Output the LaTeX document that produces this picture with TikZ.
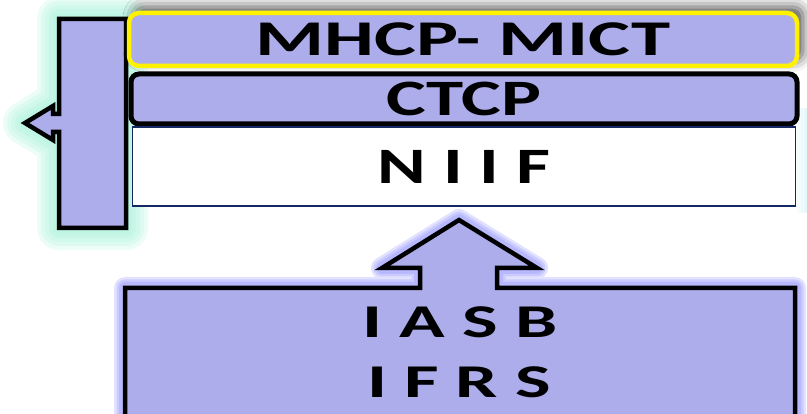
\documentclass[tikz,border=0pt]{standalone}
\usepackage{fontspec}
\usepackage{graphicx}
\setmainfont{Carlito}
\usetikzlibrary{shadows.blur,calc}
\definecolor{lavfill}{RGB}{173,173,235}
\definecolor{niifline}{RGB}{20,40,100}
\definecolor{minty}{RGB}{160,240,215}
\definecolor{glowblue}{RGB}{110,110,255}
\definecolor{paleteal}{RGB}{200,240,245}
\newcommand{\wide}[2]{\scalebox{#1}[1]{#2}}
\newcommand{\pillarpath}{(59,185) -- (59,281) -- (53,281) -- (53,273) -- (25,290) -- (53,307) -- (53,299)
    -- (59,299) -- (59,394) -- (126,394) -- (126,185) -- cycle}
\newcommand{\basepath}{(125,-20) -- (125,125) -- (420,125) -- (420,145) -- (382,145) -- (459,193)
    -- (537,145) -- (497,145) -- (497,125) -- (795,125) -- (795,-20) -- cycle}

\begin{document}
\begin{tikzpicture}[
    x=1pt, y=1pt,
    outline/.style={draw=black, fill=lavfill, line width=4.5pt, line join=miter},
    glow/.style={draw=#1, line width=\w pt, opacity=0.2, line join=round},
    bold/.style={font=\fontsize{#1}{52pt}\selectfont\bfseries, inner sep=0},
    topbox/.style={draw=yellow, fill=lavfill, line width=4.5pt, rounded corners=10pt,
        minimum width=668pt, minimum height=53pt, inner sep=0,
        blur shadow={shadow xshift=6pt, shadow yshift=6pt, shadow blur radius=12pt, shadow opacity=70}},
    midbox/.style={draw=black, fill=lavfill, line width=5pt, rounded corners=8pt,
        minimum width=666pt, minimum height=50pt, inner sep=0},
    whitebox/.style={draw=niifline, fill=white, line width=1.6pt,
        minimum width=663pt, minimum height=79pt, inner sep=0}]
\useasboundingbox (0,0) rectangle (807,413);
\clip (0,0) rectangle (807,413);

\foreach \w in {30,22,14}
    \draw[glow=paleteal] (812,305) -- (812,200);

\foreach \w in {44,36,28,20,12}
    \draw[glow=minty] \pillarpath;
\draw[outline] \pillarpath;

\node[topbox, bold=50pt] (mhcp) at (463,373.5) {\wide{1.58}{MHCP- MICT}};
\node[midbox, bold=51pt] (ctcp) at (464,314) {\wide{1.47}{CTCP}};
\node[whitebox, bold=51pt] (niif) at (464,246.5) {\wide{1.45}{N I I F}};

\foreach \w in {22,17,12}
    \draw[glow=glowblue] \basepath;
\draw[outline] \basepath;

\node[bold=47pt] (iasb) at (460,91) {\wide{1.6}{I A S B}};
\node[bold=47pt] (ifrs) at (459,30.5) {\wide{1.6}{I F R S}};

\end{tikzpicture}
\end{document}
